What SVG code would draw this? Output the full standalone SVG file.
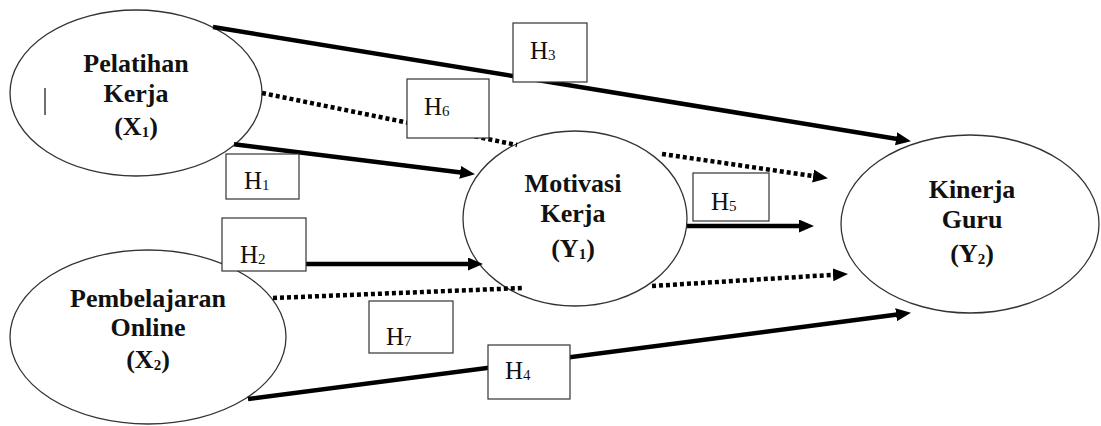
<svg xmlns="http://www.w3.org/2000/svg" width="1101" height="426" viewBox="0 0 1101 426">
  <style>
    .node { fill: #fff; stroke: #333; stroke-width: 1.3; }
    .box { fill: #fff; stroke: #333; stroke-width: 1.2; }
    .solid { stroke: #000; stroke-width: 4.5; fill: none; }
    .dot { stroke: #000; stroke-width: 4.5; fill: none; stroke-dasharray: 4 3; }
    .nt { font-family: "Liberation Serif", "Times New Roman", serif; font-weight: bold; font-size: 26px; fill: #111; text-anchor: middle; }
    .ht { font-family: "Liberation Serif", "Times New Roman", serif; font-size: 25px; fill: #111; }
    .sub { font-size: 15px; }
  </style>
  <defs>
    <marker id="arr" markerUnits="userSpaceOnUse" markerWidth="16" markerHeight="14" refX="9" refY="6.5" orient="auto">
      <path d="M0,0 L15,6.5 L0,13 z" fill="#000"/>
    </marker>
  </defs>
  <rect width="1101" height="426" fill="#fff"/>

  <g id="node-x1">
    <ellipse class="node" cx="136" cy="93" rx="126" ry="83"/>
    <line x1="45" y1="88" x2="45" y2="115" stroke="#222" stroke-width="1.3"/>
    <text class="nt" x="136" y="72">Pelatihan</text>
    <text class="nt" x="136" y="102">Kerja</text>
    <text class="nt" x="136" y="135">(X<tspan class="sub" dy="2">1</tspan><tspan dy="-2">)</tspan></text>
  </g>

  <g id="node-x2">
    <ellipse class="node" cx="148" cy="337" rx="138" ry="87"/>
    <text class="nt" x="148" y="307">Pembelajaran</text>
    <text class="nt" x="148" y="336">Online</text>
    <text class="nt" x="148" y="368">(X<tspan class="sub" dy="2">2</tspan><tspan dy="-2">)</tspan></text>
  </g>

  <g id="node-y1">
    <ellipse class="node" cx="575" cy="218.5" rx="112" ry="87.5"/>
    <text class="nt" x="573" y="192">Motivasi</text>
    <text class="nt" x="573" y="222">Kerja</text>
    <text class="nt" x="573" y="257">(Y<tspan class="sub" dy="2">1</tspan><tspan dy="-2">)</tspan></text>
  </g>

  <g id="node-y2">
    <ellipse class="node" cx="970" cy="224" rx="129" ry="89"/>
    <text class="nt" x="972" y="198">Kinerja</text>
    <text class="nt" x="972" y="228">Guru</text>
    <text class="nt" x="972" y="262">(Y<tspan class="sub" dy="2">2</tspan><tspan dy="-2">)</tspan></text>
  </g>

  <g id="connectors">
    <line class="solid" x1="213" y1="27" x2="905" y2="140.2" marker-end="url(#arr)"/>
    <line class="dot" x1="262" y1="93" x2="517" y2="145"/>
    <line class="dot" x1="662" y1="154" x2="822" y2="177.3" marker-end="url(#arr)"/>
    <line class="solid" x1="234" y1="144.2" x2="469" y2="173.4" marker-end="url(#arr)"/>
    <line class="solid" x1="687" y1="226" x2="808" y2="226" marker-end="url(#arr)"/>
    <line class="solid" x1="290" y1="264" x2="477" y2="264" marker-end="url(#arr)"/>
    <line class="dot" x1="273" y1="298" x2="523" y2="288"/>
    <line class="dot" x1="652" y1="286" x2="842" y2="274.3" marker-end="url(#arr)"/>
    <line class="solid" x1="248" y1="399" x2="905" y2="313.6" marker-end="url(#arr)"/>
  </g>

  <g id="labels">
    <g id="label-h1"><rect class="box" x="226" y="154" width="73" height="45"/><text class="ht" x="244" y="189">H<tspan class="sub" dy="1">1</tspan></text></g>
    <g id="label-h2"><rect class="box" x="222" y="218" width="84" height="53"/><text class="ht" x="240" y="263">H<tspan class="sub" dy="1">2</tspan></text></g>
    <g id="label-h3"><rect class="box" x="513" y="23" width="74" height="59"/><text class="ht" x="530" y="59">H<tspan class="sub" dy="1">3</tspan></text></g>
    <g id="label-h4"><rect class="box" x="488" y="345" width="82" height="54"/><text class="ht" x="505" y="379">H<tspan class="sub" dy="1">4</tspan></text></g>
    <g id="label-h5"><rect class="box" x="693" y="173" width="76" height="48"/><text class="ht" x="711" y="210">H<tspan class="sub" dy="1">5</tspan></text></g>
    <g id="label-h6"><rect class="box" x="407" y="79" width="82" height="59"/><text class="ht" x="424" y="115">H<tspan class="sub" dy="1">6</tspan></text></g>
    <g id="label-h7"><rect class="box" x="369" y="301" width="84" height="52"/><text class="ht" x="386" y="345">H<tspan class="sub" dy="1">7</tspan></text></g>
  </g>
</svg>
